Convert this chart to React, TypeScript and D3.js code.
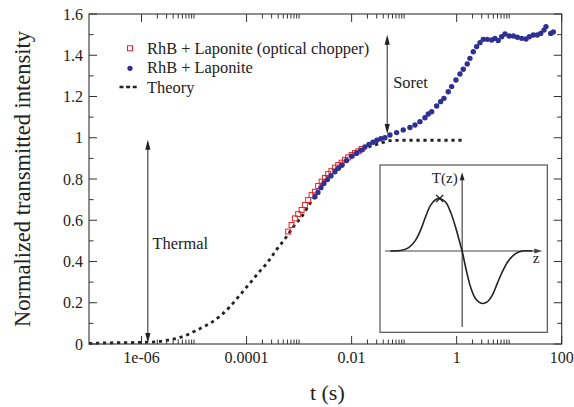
import * as d3 from "d3";

// theory curve (t in s, normalized intensity)
const theoryTime = [
  1e-7, 2.9e-7, 1e-6, 1.95e-6, 3.2e-6, 5.4e-6, 8.3e-6, 1.1e-5, 1.6e-5, 2.3e-5,
  3.3e-5, 4.8e-5, 7.4e-5, 1.15e-4, 1.66e-4, 2.57e-4, 3.7e-4, 5.75e-4, 7.8e-4,
  1.12e-3, 1.62e-3, 2.0e-3, 2.9e-3, 4.5e-3, 7.4e-3, 1.25e-2, 2.2e-2, 3.5e-2,
  5.4e-2, 0.1, 0.32, 1.35,
];
const theoryValue = [
  0.003, 0.006, 0.008, 0.011, 0.019, 0.032, 0.05, 0.066, 0.086, 0.11,
  0.14, 0.18, 0.236, 0.294, 0.343, 0.399, 0.456, 0.52, 0.569,
  0.617, 0.682, 0.714, 0.779, 0.835, 0.884, 0.925, 0.957, 0.973,
  0.986, 0.988, 0.988, 0.988,
];

// RhB + Laponite (optical chopper)
const chopperTime = [
  6.19e-4, 7.19e-4, 8.32e-4, 9.62e-4, 1.117e-3, 1.29e-3, 1.49e-3, 1.73e-3,
  2.0e-3, 2.31e-3, 2.69e-3, 3.1e-3, 3.58e-3, 4.12e-3, 4.81e-3, 5.56e-3,
  6.46e-3, 7.45e-3, 8.6e-3, 1.0e-2, 1.16e-2, 1.34e-2, 1.55e-2,
];
const chopperValue = [
  0.545, 0.577, 0.609, 0.63, 0.65, 0.674, 0.698, 0.722,
  0.738, 0.766, 0.787, 0.805, 0.824, 0.838, 0.855, 0.868,
  0.879, 0.893, 0.905, 0.916, 0.926, 0.934, 0.945,
];

// RhB + Laponite
const laponiteTime = [
  2.0e-3, 2.28e-3, 2.6e-3, 2.96e-3, 3.46e-3, 4.04e-3, 4.81e-3, 5.61e-3, 6.53e-3,
  8.03e-3, 1.0e-2, 1.24e-2, 1.5e-2, 1.79e-2, 2.14e-2, 2.55e-2, 3.03e-2, 3.61e-2,
  4.31e-2, 5.37e-2, 7.19e-2, 9.62e-2, 0.129, 0.161, 0.2, 0.249, 0.288, 0.334,
  0.416, 0.495, 0.573, 0.692, 0.803, 0.97, 1.156, 1.337, 1.59, 1.79, 2.07, 2.4,
  2.78, 3.21, 3.83, 4.64, 5.37, 6.19, 7.19, 8.32, 10.0, 12.0, 14.3, 17.3, 20.9,
  24.2, 28.8, 34.3, 39.8, 46.0, 50.2, 61.7, 69.2,
];
const laponiteValue = [
  0.714, 0.735, 0.758, 0.778, 0.797, 0.815, 0.835, 0.852, 0.867,
  0.89, 0.91, 0.925, 0.94, 0.955, 0.967, 0.978, 0.988, 0.995,
  1.0, 1.013, 1.025, 1.038, 1.05, 1.062, 1.078, 1.097, 1.115, 1.126,
  1.154, 1.175, 1.191, 1.223, 1.248, 1.28, 1.309, 1.332, 1.358, 1.385, 1.417, 1.442,
  1.461, 1.477, 1.477, 1.474, 1.482, 1.471, 1.49, 1.503, 1.493, 1.493, 1.487, 1.482, 1.479,
  1.49, 1.498, 1.498, 1.506, 1.522, 1.539, 1.506, 1.513,
];

const xTicks = [1e-6, 1e-4, 1e-2, 1, 100];
const xTickLabels = ["1e-06", "0.0001", "0.01", "1", "100"];
const yTicks = [0, 0.2, 0.4, 0.6, 0.8, 1.0, 1.2, 1.4, 1.6];
const yTickLabels = ["0", "0.2", "0.4", "0.6", "0.8", "1", "1.2", "1.4", "1.6"];

const legendLabels = ["RhB + Laponite (optical chopper)", "RhB + Laponite", "Theory"];

// inset sketch of T(z)
const insetZ = [
  -3.58, -3.0, -2.67, -2.33, -2.08, -1.83, -1.58, -1.33, -1.12, -0.83, -0.58, -0.33,
  -0.08, 0, 0.17, 0.42, 0.67, 1.0, 1.25, 1.5, 1.75, 2.0, 2.33, 2.67, 3.0, 3.5,
];
const insetT = [
  0, 0.013, 0.063, 0.203, 0.394, 0.648, 0.87, 0.978, 1.0, 0.933, 0.743, 0.457,
  0.108, 0, -0.305, -0.686, -0.908, -1.0, -0.97, -0.845, -0.622, -0.4, -0.178, -0.05, 0, 0,
];

const W = 574;
const H = 407;
const margin = { top: 14, right: 12.3, bottom: 63, left: 89 };
const font = '"Liberation Serif", "DejaVu Serif", serif';
const ink = "#222";
const axisColor = "#333";
const blue = "#2e3192";
const red = "#e3242b";

function arrowHead(tx: number, ty: number, dir: number, len = 10, half = 2.6) {
  // dir = -1 points up, +1 points down
  const by = ty - dir * len;
  return `M${tx},${ty}L${tx - half},${by}L${tx + half},${by}Z`;
}

function hArrowHead(tx: number, ty: number, len = 8, half = 2.4) {
  return `M${tx},${ty}L${tx - len},${ty - half}L${tx - len},${ty + half}Z`;
}

export default function App() {
  const x = d3.scaleLog().domain([1e-7, 100]).range([margin.left, W - margin.right]);
  const y = d3.scaleLinear().domain([0, 1.6]).range([H - margin.bottom, margin.top]);
  const x0 = margin.left;
  const x1 = W - margin.right;
  const y0 = H - margin.bottom;
  const y1 = margin.top;

  const minorX: number[] = [];
  [1e-8, 1e-6, 1e-4, 1e-2, 1].forEach((b) => {
    for (let k = 2; k <= 10; k++) {
      const v = b * k;
      if (v > 1e-7 * 1.001 && v < 100) minorX.push(v);
    }
  });
  const minorY = d3.range(1, 16, 2).map((i) => i / 10);

  const theoryPath = d3
    .line<number>()
    .x((_, i) => x(theoryTime[i]))
    .y((v) => y(v))
    .curve(d3.curveMonotoneX)(theoryValue) as string;

  // inset
  const box = { left: 380, right: 547.3, top: 165, bottom: 332.3 };
  const zs = d3.scaleLinear().domain([-4.1, 4.25]).range([box.left, box.right]);
  const ts = d3.scaleLinear().domain([-1.55, 1.64]).range([box.bottom, box.top]);
  const insetPath = d3
    .line<number>()
    .x((_, i) => zs(insetZ[i]))
    .y((v) => ts(v))
    .curve(d3.curveCatmullRom)(insetT) as string;
  const peakX = zs(-1.12);
  const peakY = ts(1.0);

  // annotations
  const thermalX = x(1.32e-6);
  const soretX = x(0.0476);

  return (
    <svg
      width={W}
      height={H}
      style={{ position: "absolute", left: 0, top: 0, background: "#fff", fontFamily: font }}
    >
      <rect width={W} height={H} fill="#fff" />

      {/* theory */}
      <path
        d={theoryPath}
        fill="none"
        stroke={ink}
        strokeWidth={2.8}
        strokeDasharray="3.2,3.8"
      />

      {/* chopper data */}
      {chopperTime.map((t, i) => (
        <rect
          key={"c" + i}
          x={x(t) - 2.5}
          y={y(chopperValue[i]) - 2.5}
          width={5}
          height={5}
          fill="none"
          stroke={red}
          strokeWidth={1}
        />
      ))}

      {/* laponite data */}
      {laponiteTime.map((t, i) => (
        <circle key={"l" + i} cx={x(t)} cy={y(laponiteValue[i])} r={2.7} fill={blue} />
      ))}

      {/* frame */}
      <rect x={x0} y={y1} width={x1 - x0} height={y0 - y1} fill="none" stroke={axisColor} strokeWidth={1.1} />

      {/* x ticks */}
      {xTicks.map((t, i) => (
        <g key={"xt" + i}>
          <line x1={x(t)} x2={x(t)} y1={y0} y2={y0 - 8} stroke={axisColor} />
          <line x1={x(t)} x2={x(t)} y1={y1} y2={y1 + 8} stroke={axisColor} />
          <text x={x(t)} y={y0 + 19} textAnchor="middle" fontSize={16} fill={ink}>
            {xTickLabels[i]}
          </text>
        </g>
      ))}
      {minorX.map((t, i) => (
        <g key={"xm" + i}>
          <line x1={x(t)} x2={x(t)} y1={y0} y2={y0 - 4.5} stroke={axisColor} />
          <line x1={x(t)} x2={x(t)} y1={y1} y2={y1 + 4.5} stroke={axisColor} />
        </g>
      ))}

      {/* y ticks */}
      {yTicks.map((v, i) => (
        <g key={"yt" + i}>
          <line x1={x0} x2={x0 + 8} y1={y(v)} y2={y(v)} stroke={axisColor} />
          <line x1={x1} x2={x1 - 8} y1={y(v)} y2={y(v)} stroke={axisColor} />
          <text x={x0 - 6} y={y(v)} dy="0.35em" textAnchor="end" fontSize={16} fill={ink}>
            {yTickLabels[i]}
          </text>
        </g>
      ))}
      {minorY.map((v, i) => (
        <g key={"ym" + i}>
          <line x1={x0} x2={x0 + 4.5} y1={y(v)} y2={y(v)} stroke={axisColor} />
          <line x1={x1} x2={x1 - 4.5} y1={y(v)} y2={y(v)} stroke={axisColor} />
        </g>
      ))}

      {/* axis titles */}
      <text
        transform={`translate(29.5,${(y0 + y1) / 2}) rotate(-90)`}
        textAnchor="middle"
        fontSize={22.5}
        fill={ink}
      >
        Normalized transmitted intensity
      </text>
      <text x={(x0 + x1) / 2 + 2} y={400} textAnchor="middle" fontSize={22} fill={ink}>
        t (s)
      </text>

      {/* legend */}
      <rect x={127.5} y={45.8} width={5} height={5} fill="none" stroke={red} strokeWidth={1} />
      <circle cx={130} cy={68.3} r={2.6} fill={blue} />
      <line x1={119.5} x2={138} y1={87} y2={87} stroke={ink} strokeWidth={2.6} strokeDasharray="4,2.6" />
      {legendLabels.map((s, i) => (
        <text key={"lg" + i} x={147} y={54 + i * 19.3} fontSize={16.4} fill={ink}>
          {s}
        </text>
      ))}

      {/* thermal arrow */}
      <line x1={thermalX} x2={thermalX} y1={y(0.005) - 8} y2={y(0.99) + 8} stroke={ink} strokeWidth={1} />
      <path d={arrowHead(thermalX, y(0.99), -1)} fill={ink} />
      <path d={arrowHead(thermalX, y(0.005), 1)} fill={ink} />
      <text x={x(1.62e-6)} y={y(0.46)} fontSize={16.4} fill={ink}>
        Thermal
      </text>

      {/* soret arrow */}
      <line x1={soretX} x2={soretX} y1={y(1.5) + 8} y2={y(1.018) - 8} stroke={ink} strokeWidth={1} />
      <path d={arrowHead(soretX, y(1.5), -1)} fill={ink} />
      <path d={arrowHead(soretX, y(1.018), 1)} fill={ink} />
      <text x={x(0.062)} y={y(1.241)} fontSize={16.4} fill={ink}>
        Soret
      </text>

      {/* inset */}
      <rect
        x={box.left}
        y={box.top}
        width={box.right - box.left}
        height={box.bottom - box.top}
        fill="#fff"
        stroke="#444"
        strokeWidth={1.1}
      />
      <line x1={zs(-3.85)} x2={zs(4.0) - 6} y1={ts(0)} y2={ts(0)} stroke="#444" strokeWidth={1} />
      <path d={hArrowHead(zs(4.0), ts(0))} fill="#444" />
      <line x1={zs(0)} x2={zs(0)} y1={ts(-1.45)} y2={ts(1.5) + 6} stroke={ink} strokeWidth={1} />
      <path d={arrowHead(zs(0), ts(1.5), -1, 8, 2.4)} fill={ink} />
      <path d={insetPath} fill="none" stroke={ink} strokeWidth={1.6} />
      <path
        d={`M${peakX - 3.5},${peakY - 3.5}L${peakX + 3.5},${peakY + 3.5}M${peakX - 3.5},${peakY + 3.5}L${peakX + 3.5},${peakY - 3.5}`}
        stroke={ink}
        strokeWidth={1.3}
      />
      <text x={zs(0) - 4.5} y={183} textAnchor="end" fontSize={15} fill={ink}>
        T(z)
      </text>
      <text x={532.7} y={262.7} fontSize={15} fill={ink}>
        z
      </text>
    </svg>
  );
}
